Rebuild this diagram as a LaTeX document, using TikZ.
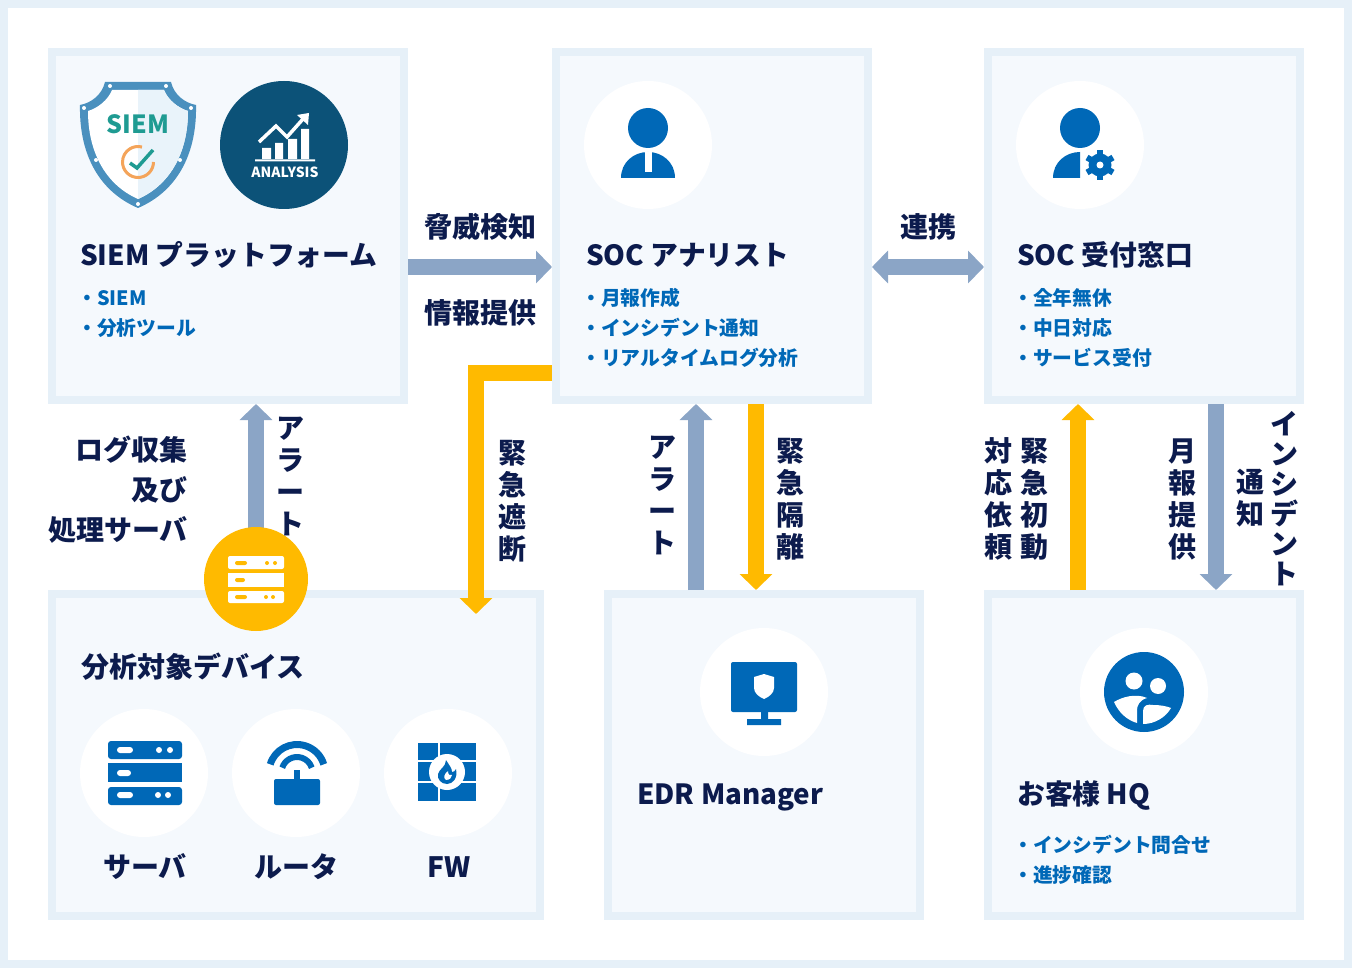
\documentclass[tikz,border=0pt]{standalone}
\usepackage{fontspec}
\setmainfont{Noto Sans CJK JP}
\usetikzlibrary{arrows.meta}
\definecolor{frameblue}{HTML}{E6F0F8}
\definecolor{panelblue}{HTML}{F5F9FD}
\definecolor{navy}{HTML}{0C1B4D}
\definecolor{itemblue}{HTML}{0068B7}
\definecolor{flowblue}{HTML}{8BA5C6}
\definecolor{amber}{HTML}{FFBA00}
\definecolor{deepblue}{HTML}{0C5278}
\definecolor{shieldblue}{HTML}{4A90BE}
\definecolor{shieldpale}{HTML}{E9F3FA}
\definecolor{teal}{HTML}{1F9B92}
\definecolor{peach}{HTML}{F4A45A}
\tikzset{
  panel/.style={draw=frameblue,fill=panelblue,line width=8pt,inner sep=0pt},
  disc/.style={circle,fill=white,minimum size=128pt,inner sep=0pt},
  title/.style={anchor=base west,inner sep=0pt,text=navy,font=\fontsize{27.8}{32}\selectfont\bfseries},
  items/.style={anchor=base west,inner sep=0pt,text=itemblue,align=left,font=\fontsize{19.8}{30}\selectfont\bfseries},
  flowlabel/.style={inner sep=0pt,text=navy,font=\fontsize{28}{40}\selectfont\bfseries},
  vlabel/.style={inner sep=0pt,text=navy,align=center,font=\fontsize{28}{32}\selectfont\bfseries},
  vlabeltight/.style={inner sep=0pt,text=navy,align=center,font=\fontsize{28}{30}\selectfont\bfseries},
  blueflow/.style={draw=flowblue,line width=16pt,-{Triangle[length=16pt,width=32pt]}},
  blueboth/.style={draw=flowblue,line width=16pt,{Triangle[length=16pt,width=32pt]}-{Triangle[length=16pt,width=32pt]}},
  amberflow/.style={draw=amber,line width=16pt,-{Triangle[length=16pt,width=32pt]}},
}
\begin{document}
\begin{tikzpicture}[x=1pt,y=-1pt]
\useasboundingbox (0,0) rectangle (1352,968);
\fill[frameblue] (0,0) rectangle (1352,968);
\fill[white] (8,8) rectangle (1344,960);
% panels
\node[panel,minimum width=352pt,minimum height=348pt] (siem) at (228,226) {};
\node[panel,minimum width=312pt,minimum height=348pt] (soc) at (712,226) {};
\node[panel,minimum width=312pt,minimum height=348pt] (desk) at (1144,226) {};
\node[panel,minimum width=488pt,minimum height=322pt] (targets) at (296,755) {};
\node[panel,minimum width=312pt,minimum height=322pt] (edr) at (764,755) {};
\node[panel,minimum width=312pt,minimum height=322pt] (hq) at (1144,755) {};
% helper coordinates
\coordinate (rowflow) at (0,267);
\coordinate (rowamber) at (0,373);
\coordinate (amberend) at (476,614);
\coordinate (logsrv) at (256,579);
\coordinate (colA) at (696,0);
\coordinate (colB) at (756,0);
\coordinate (colC) at (1078,0);
\coordinate (colD) at (1216,0);
% connectors
\draw[blueflow] (siem.east |- rowflow) -- (soc.west |- rowflow);
\draw[blueboth] (soc.east |- rowflow) -- (desk.west |- rowflow);
\draw[amberflow] (soc.west |- rowamber) -| (amberend);
\draw[blueflow] (logsrv) -- (logsrv |- siem.south);
\draw[blueflow] (colA |- edr.north) -- (colA |- soc.south);
\draw[amberflow] (colB |- soc.south) -- (colB |- edr.north);
\draw[amberflow] (colC |- hq.north) -- (colC |- desk.south);
\draw[blueflow] (colD |- desk.south) -- (colD |- hq.north);
% white discs
\node[disc] (socdisc) at (648,145) {};
\node[disc] (deskdisc) at (1080,145) {};
\node[disc] (edrdisc) at (764,692) {};
\node[disc] (hqdisc) at (1144,692) {};
\node[disc] (srvdisc) at (144,773) {};
\node[disc] (rtrdisc) at (296,773) {};
\node[disc] (fwdisc) at (448,773) {};
% shield
\fill[shieldblue] (105,82) -- (171,82) .. controls (174,95) and (185,103) .. (196,105) .. controls (197,150) and (180,190) .. (138,208) .. controls (96,190) and (79,150) .. (80,105) .. controls (91,103) and (102,95) .. (105,82) -- cycle;
\fill[white] (112,90) -- (164,90) .. controls (168,100) and (178,108) .. (188,111) .. controls (188,150) and (172,184) .. (138,199) .. controls (104,184) and (88,150) .. (88,111) .. controls (98,108) and (108,100) .. (112,90) -- cycle;
\fill[shieldpale] (138,90) -- (164,90) .. controls (168,100) and (178,108) .. (188,111) .. controls (188,150) and (172,184) .. (138,199) -- cycle;
\foreach \rx/\ry in {110/86,166/86,84/108,191/108,96/160,180/160,138/204}
  \fill[white] (\rx,\ry) circle[radius=2];
\node[inner sep=0pt,text=teal,font=\fontsize{25}{25}\selectfont\bfseries] (siemword) at (138,124) {SIEM};
\draw[peach,line width=3pt] (153.5,162) arc[start angle=0,end angle=285,radius=15.5];
\draw[teal,line width=3.5pt] (130,163) -- (137,168) -- (153,150);
% analysis
\node[circle,fill=deepblue,minimum size=128pt,inner sep=0pt] (analysis) at (284,145) {};
\fill[white] (262,148) rectangle (271,159) (275,143) rectangle (283,159) (288,139) rectangle (297,159) (301,129) rectangle (309,159) (255,159.5) rectangle (315,161.5);
\draw[white,line width=3.5pt] (259,142) -- (276,126) -- (287,137) -- (303,119);
\fill[white] (297,115) -- (309,113) -- (308,125) -- cycle;
\node[inner sep=0pt,text=white,font=\fontsize{14}{14}\selectfont\bfseries] (analysisword) at (285,172) {ANALYSIS};
% analyst person
\fill[itemblue] (648,128) circle[radius=20];
\fill[itemblue] (621,178) .. controls (621,162) and (634,152) .. (648,152) .. controls (662,152) and (675,162) .. (675,178) -- cycle;
\fill[white] (645,152) rectangle (652,172);
% desk person
\fill[itemblue] (1080,128) circle[radius=20];
\fill[itemblue] (1053,178) .. controls (1053,162) and (1066,152) .. (1080,152) -- (1080,178) -- cycle;
\foreach \ga in {30,90,150,210,270,330}
  \draw[itemblue,line width=6pt] (1100,165) -- ++(\ga:15);
\fill[itemblue] (1100,165) circle[radius=11.5];
\fill[white] (1100,165) circle[radius=3.5];
% monitor
\fill[itemblue,rounded corners=2pt] (731,662) rectangle (797,712);
\fill[itemblue] (761,712) rectangle (768,720) (747,719) rectangle (781,725);
\fill[white] (764,674) -- (774,677) -- (774,688) .. controls (774,693) and (769,697) .. (764,699) .. controls (759,697) and (754,693) .. (754,688) -- (754,677) -- cycle;
% customers
\fill[itemblue] (1144,692) circle[radius=40];
\fill[white] (1134,681) circle[radius=8.5] (1158,686) circle[radius=8];
\fill[white] (1114,702) .. controls (1122,697) and (1136,693) .. (1147,698) .. controls (1140,700) and (1137,705) .. (1137,710) -- (1137,723) .. controls (1127,720) and (1119,713) .. (1114,702) -- cycle;
\fill[white] (1143,724) -- (1143,711) .. controls (1143,705) and (1148,704) .. (1153,705) .. controls (1160,705) and (1166,706) .. (1171,708) .. controls (1166,717) and (1155,724) .. (1143,724) -- cycle;
% server
\fill[itemblue,rounded corners=3pt] (108,741) -- (182,741) -- (182,759) -- (108,759) -- cycle;
\fill[itemblue] (108,763) rectangle (182,782);
\fill[itemblue,rounded corners=3pt] (108,787) -- (182,787) -- (182,805) -- (108,805) -- cycle;
\fill[white,rounded corners=3pt] (117,747) rectangle (133,753) (117,770) rectangle (131,776) (117,792) rectangle (133,798);
\fill[white] (159,750) circle[radius=3] (170,750) circle[radius=3] (158,795) circle[radius=3] (168,795) circle[radius=3];
% router
\fill[itemblue,rounded corners=2pt] (274,779) rectangle (320,805);
\fill[itemblue] (294,770) rectangle (300,780);
\draw[itemblue,line width=7pt] (297,772.5) ++(197:28) arc[start angle=197,end angle=343,radius=28];
\draw[itemblue,line width=6pt] (297,772.5) ++(198:15.5) arc[start angle=198,end angle=342,radius=15.5];
% firewall
\fill[itemblue] (418,743) rectangle (476,801);
\draw[white,line width=1.5pt] (418,761) -- (476,761) (418,782) -- (476,782) (439,743) -- (439,761) (439,782) -- (439,801);
\fill[white] (447,772) circle[radius=18];
\fill[itemblue] (446,760) .. controls (449,765) and (452,768) .. (452,772) .. controls (454,772) and (455,771) .. (456,769) .. controls (458,778) and (453,784) .. (447,784) .. controls (441,784) and (437,779) .. (438,774) .. controls (439,769) and (446,767) .. (446,760) -- cycle;
\fill[white] (448,771) .. controls (444,774) and (443,778) .. (446,780) .. controls (450,780) and (452,777) .. (452,775) .. controls (450,776) and (448,775) .. (448,771) -- cycle;
% amber log server disc
\node[circle,fill=amber,minimum size=104pt,inner sep=0pt] (logdisc) at (logsrv) {};
\fill[white,rounded corners=2pt] (228,556) -- (284,556) -- (284,569) -- (228,569) -- cycle;
\fill[white] (228,573) rectangle (284,587);
\fill[white,rounded corners=2pt] (228,591) -- (284,591) -- (284,603) -- (228,603) -- cycle;
\fill[amber,rounded corners=2pt] (235,561) rectangle (247,565) (235,578) rectangle (245,582) (235,595) rectangle (247,599);
\fill[amber] (267,563) circle[radius=2] (275,563) circle[radius=2] (266,597) circle[radius=2] (273,597) circle[radius=2];
% titles
\node[title] (tsiem) at (80,266) {SIEM プラットフォーム};
\node[title] (tsoc) at (586,266) {SOC アナリスト};
\node[title] (tdesk) at (1017,266) {SOC 受付窓口};
\node[title,font=\fontsize{28}{32}\selectfont\bfseries] (ttargets) at (81,677) {分析対象デバイス};
\node[title] (tedr) at (637,804) {EDR Manager};
\node[title] (thq) at (1017,804) {お客様 HQ};
% lists
\node[items] (lsiem) at (77,335) {・SIEM\\・分析ツール};
\node[items] (lsoc) at (581,365) {・月報作成\\・インシデント通知\\・リアルタイムログ分析};
\node[items] (ldesk) at (1013,365) {・全年無休\\・中日対応\\・サービス受付};
\node[items] (lhq) at (1013,882) {・インシデント問合せ\\・進捗確認};
% device captions
\node[flowlabel] (csrv) at (145,867) {サーバ};
\node[flowlabel] (crtr) at (296,867) {ルータ};
\node[flowlabel] (cfw) at (449,867) {FW};
% flow labels
\node[flowlabel] (lthreat) at (480,227) {脅威検知};
\node[flowlabel] (linfo) at (480,313) {情報提供};
\node[flowlabel] (llink) at (928,227) {連携};
\node[flowlabel,align=right,anchor=east] (llog) at (188,490) {ログ収集\\及び\\処理サーバ};
% vertical labels
\node[vlabel] (va1) at (290,476) {ア\\ラ\\ー\\ト};
\node[vlabel] (vb1) at (512,501) {緊\\急\\遮\\断};
\node[vlabel] (va2) at (662,495) {ア\\ラ\\ー\\ト};
\node[vlabel] (vb2) at (790,499) {緊\\急\\隔\\離};
\node[vlabel] (vc1) at (998,499) {対\\応\\依\\頼};
\node[vlabel] (vc2) at (1034,499) {緊\\急\\初\\動};
\node[vlabel] (vd1) at (1182,499) {月\\報\\提\\供};
\node[vlabel] (vd2) at (1250,498) {通\\知};
\node[vlabeltight] (vd3) at (1284,499) {イ\\ン\\シ\\デ\\ン\\ト};
\end{tikzpicture}
\end{document}
